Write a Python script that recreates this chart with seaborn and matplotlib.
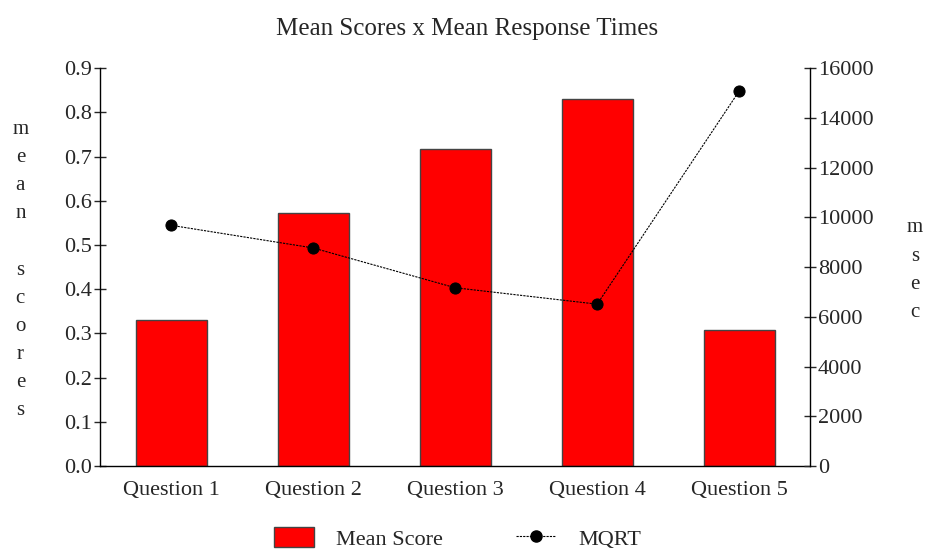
import matplotlib
matplotlib.use("Agg")
import matplotlib.pyplot as plt
import seaborn as sns
from matplotlib.patches import Patch
from matplotlib.lines import Line2D

questions = ["Question 1", "Question 2", "Question 3", "Question 4", "Question 5"]
mean_score = [0.33, 0.572, 0.716, 0.829, 0.308]
mqrt = [9680, 8770, 7170, 6510, 15080]

sns.set_style("white")
plt.rcParams["font.family"] = ["Liberation Serif", "DejaVu Serif"]

fig = plt.figure(figsize=(9.26, 5.49), dpi=100)
ax = fig.add_axes([0.108, 0.151, 0.767, 0.725])

sns.barplot(x=questions, y=mean_score, ax=ax, color="#ff0000", edgecolor="#444444",
            linewidth=1, width=0.5, saturation=1)
ax.set_ylim(0, 0.9)
ax.set_xlim(-0.5, 4.5)
ax.set_yticks([i / 10 for i in range(10)])
ax.set_yticklabels([f"{i / 10:.1f}" for i in range(10)])
ax.set_xlabel("")
ax.set_ylabel("")

ax2 = ax.twinx()
sns.lineplot(x=list(range(5)), y=mqrt, ax=ax2, color="black", linewidth=0.8,
             linestyle=(0, (2, 1)), marker="o", markersize=8, markeredgecolor="black")
ax2.set_ylim(0, 16000)
ax2.set_yticks(range(0, 16001, 2000))
ax2.set_ylabel("")

for a in (ax, ax2):
    a.spines["top"].set_visible(False)
    for s in a.spines.values():
        s.set_color("black")
        s.set_linewidth(1)
ax.spines["right"].set_visible(False)
ax2.spines["left"].set_visible(False)
ax2.spines["bottom"].set_visible(False)

ax.tick_params(axis="y", direction="inout", length=9, width=1, labelsize=16, pad=1, left=True)
ax.tick_params(axis="x", length=0, labelsize=16, pad=11)
ax2.tick_params(axis="y", direction="inout", length=9, width=1, labelsize=16, pad=1, right=True)

fig.text(0.504, 0.948, "Mean Scores x Mean Response Times", ha="center", va="center", fontsize=18)
fig.text(0.022, 0.508, "\n".join("mean scores"), ha="center", va="center",
         fontsize=15, linespacing=1.65)
fig.text(0.988, 0.508, "\n".join("msec"), ha="center", va="center",
         fontsize=15, linespacing=1.65)

handles = [Patch(facecolor="#ff0000", edgecolor="#444444"),
           Line2D([0], [0], color="black", linewidth=0.8, linestyle=(0, (2, 1)),
                  marker="o", markersize=8)]
fig.legend(handles, ["Mean Score", "MQRT"], loc="center", bbox_to_anchor=(0.494, 0.019),
           ncol=2, frameon=False, fontsize=16, handlelength=1.8, handleheight=1.0,
           columnspacing=3.3, handletextpad=1.0)

fig.savefig("out.png", dpi=100)
